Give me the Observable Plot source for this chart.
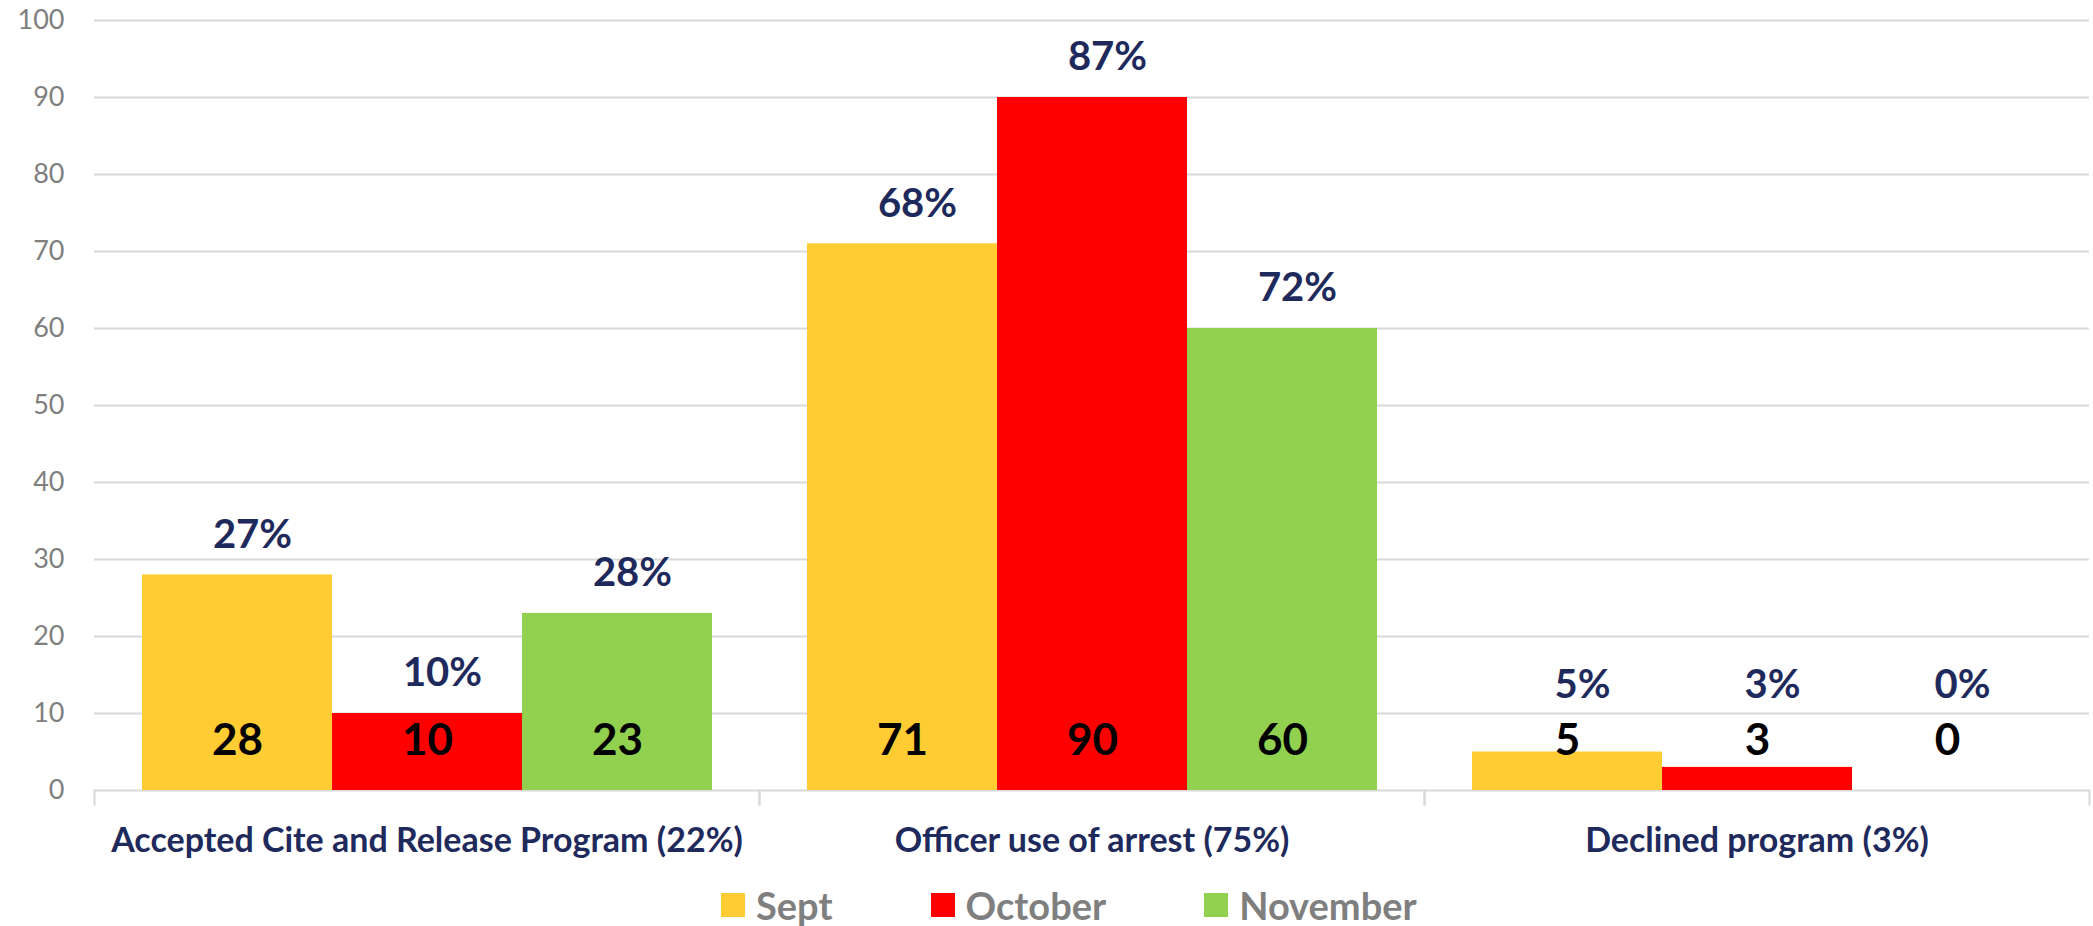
<!DOCTYPE html>
<html>
<head>
<meta charset="utf-8">
<script src="https://cdn.jsdelivr.net/npm/d3@7"></script>
<script src="https://cdn.jsdelivr.net/npm/@observablehq/plot@0.6"></script>
<style>
  html, body { margin: 0; padding: 0; background: #ffffff; }
  #chart svg { display: block; }
  div.lg-swatches { font-family: Lato, sans-serif !important; font-size: 38px !important; font-weight: 700 !important; color: #7f7f7f !important; margin: 12px 0 0 721px !important; }
  div.lg-swatches .lg-swatch { margin-right: 98px !important; }
  div.lg-swatches .lg-swatch > svg { margin-right: 11px !important; }
</style>
</head>
<body>
<div id="chart"></div>
<script>
// ---- data ----
const categories = [
  "Accepted Cite and Release Program (22%)",
  "Officer use of arrest (75%)",
  "Declined program (3%)"
];
const months = ["Sept", "October", "November"];
const septValues = [28, 71, 5];
const octoberValues = [10, 90, 3];
const novemberValues = [23, 60, 0];
const septPct = ["27%", "68%", "5%"];
const octoberPct = ["10%", "87%", "3%"];
const novemberPct = ["28%", "72%", "0%"];
const yTicks = [0, 10, 20, 30, 40, 50, 60, 70, 80, 90, 100];
const monthColors = ["#FFCD33", "#FF0000", "#92D050"];

const navy = "#1F2A5C";
const series = [
  [septValues, septPct],
  [octoberValues, octoberPct],
  [novemberValues, novemberPct]
];
const data = months.flatMap((m, i) =>
  categories.map((c, j) => ({category: c, month: m, value: series[i][0][j], pct: series[i][1][j]}))
);

const chart = Plot.plot({
  width: 2093,
  height: 870,
  marginTop: 20,
  marginBottom: 80,
  marginLeft: 93,
  marginRight: 3,
  style: {fontFamily: "Lato, sans-serif", background: "white"},
  fx: {domain: categories, padding: 0, label: null},
  x: {domain: months, paddingInner: 0, paddingOuter: 0.25, axis: null},
  y: {domain: [0, 100], label: null},
  color: {domain: months, range: monthColors},
  marks: [
    Plot.gridY(yTicks, {stroke: "#d9d9d9", strokeOpacity: 1, strokeWidth: 2}),
    Plot.frame({anchor: "left", insetTop: 770, insetBottom: -14, stroke: "#d9d9d9", strokeWidth: 2}),
    Plot.frame({anchor: "right", insetTop: 770, insetBottom: -14, stroke: "#d9d9d9", strokeWidth: 2}),
    Plot.axisY(yTicks, {tickSize: 0, tickPadding: 30, fontSize: 27, fill: "#7f7f7f", label: null}),
    Plot.axisFx({anchor: "bottom", tickSize: 0, tickPadding: 37, fontSize: 34, fontWeight: "bold", fill: navy, label: null}),
    Plot.barY(data, {fx: "category", x: "month", y: "value", fill: "month", inset: 0}),
    Plot.text(data, {fx: "category", x: "month", text: d => String(d.value), frameAnchor: "bottom", dy: -36, fontSize: 44, fontWeight: "bold", fill: "black"}),
    // percentage labels sit above the bar, but never lower than the in-bar count labels
    Plot.text(data, {fx: "category", x: "month", y: d => Math.max(d.value, 8.5), text: "pct", dy: -40, dx: 15, fontSize: 40, fontWeight: "bold", fill: navy})
  ]
});
document.getElementById("chart").appendChild(chart);

const legend = Plot.legend({color: {domain: months, range: monthColors}, className: "lg", swatchSize: 24});
document.getElementById("chart").appendChild(legend);
</script>
</body>
</html>
